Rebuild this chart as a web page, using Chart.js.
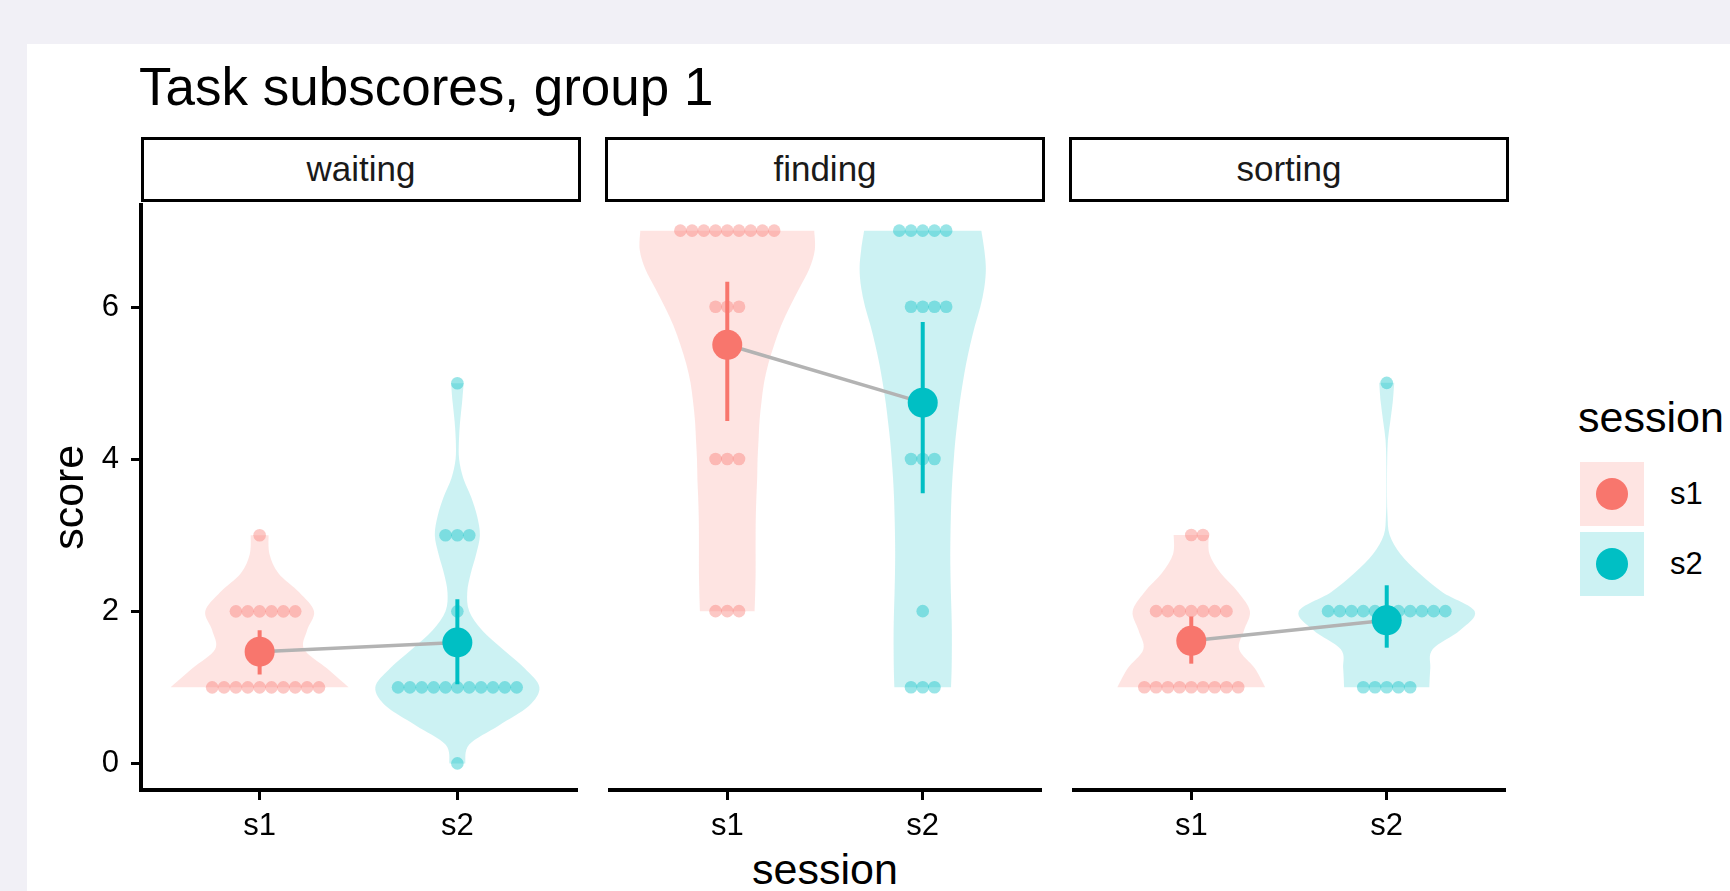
<!DOCTYPE html>
<html>
<head>
<meta charset="utf-8">
<title>Task subscores, group 1</title>
<script src="https://cdn.jsdelivr.net/npm/chart.js@4.4.1/dist/chart.umd.min.js"></script>
<style>
  html, body { margin: 0; padding: 0; }
  body {
    width: 1730px;
    height: 891px;
    overflow: hidden;
    position: relative;
    background: #f1f0f6;
    font-family: "Liberation Sans", Arial, Helvetica, sans-serif;
    color: #000;
  }
  .card { position: absolute; left: 27px; top: 44px; right: 0; bottom: 0; background: #fff; }
  .title { position: absolute; left: 139px; top: 60px; font-size: 53px; line-height: 53px; white-space: nowrap; }
  .strip {
    position: absolute;
    top: 137px;
    height: 65px;
    box-sizing: border-box;
    border: 3px solid #000;
    text-align: center;
    font-size: 35px;
    line-height: 57px;
    color: #1a1a1a;
  }
  canvas.panel { position: absolute; top: 174px; }
  .x-title { position: absolute; left: 141px; width: 1368px; top: 848px; text-align: center; font-size: 43px; line-height: 43px; }
  .legend-title { position: absolute; left: 1578px; top: 396px; font-size: 43px; line-height: 43px; }
  .key { position: absolute; left: 1580px; width: 64px; height: 64px; }
  .key i { position: absolute; left: 16px; top: 16px; width: 32px; height: 32px; border-radius: 50%; }
  .key-label { position: absolute; left: 1670px; font-size: 31px; line-height: 64px; }
</style>
</head>
<body>
<div class="card"></div>
<div class="title">Task subscores, group 1</div>
<div class="x-title">session</div>
<div class="legend-title">session</div>

<script>
// ---- values ----
const facets = ['waiting', 'finding', 'sorting'];
const sessions = ['s1', 's2'];
const sessionColors = ['#F8766D', '#00BFC4'];
const yTicks = [0, 2, 4, 6];

// number of dots at each score, index = score 0..7
const waitingS1Counts = [0, 10, 6, 1, 0, 0, 0, 0];
const waitingS2Counts = [1, 11, 1, 3, 0, 1, 0, 0];
const findingS1Counts = [0, 0, 3, 0, 3, 0, 3, 9];
const findingS2Counts = [0, 3, 1, 0, 3, 0, 4, 5];
const sortingS1Counts = [0, 9, 7, 2, 0, 0, 0, 0];
const sortingS2Counts = [0, 5, 11, 0, 0, 1, 0, 0];

// mean and interval, [s1, s2]
const waitingMeans = [1.47, 1.59];
const waitingLow = [1.17, 1.04];
const waitingHigh = [1.75, 2.16];
const findingMeans = [5.5, 4.74];
const findingLow = [4.5, 3.55];
const findingHigh = [6.33, 5.8];
const sortingMeans = [1.61, 1.88];
const sortingLow = [1.31, 1.52];
const sortingHigh = [1.93, 2.34];

// violin half widths (category units), every 0.25 from lowest to highest score of the group
const violinStep = 0.25;
const waitingS1Violin = [0.45, 0.34, 0.225, 0.24, 0.275, 0.2, 0.095, 0.05, 0.045];
const waitingS2Violin = [0.04, 0.06, 0.21, 0.36, 0.415, 0.34, 0.23, 0.125, 0.06, 0.05, 0.068,
  0.095, 0.114, 0.1, 0.07, 0.03, 0.009, 0.008, 0.014, 0.024, 0.032];
const findingS1Violin = [0.14, 0.143, 0.145, 0.145, 0.145, 0.146, 0.149, 0.153, 0.155, 0.16, 0.165,
  0.175, 0.188, 0.21, 0.24, 0.275, 0.32, 0.37, 0.42, 0.448, 0.445];
const findingS2Violin = [0.145, 0.148, 0.149, 0.149, 0.147, 0.144, 0.142, 0.141, 0.142, 0.144, 0.147,
  0.152, 0.159, 0.167, 0.178, 0.19, 0.205, 0.222, 0.243, 0.267, 0.295, 0.315, 0.323, 0.315, 0.3];
const sortingS1Violin = [0.378, 0.325, 0.245, 0.27, 0.3, 0.24, 0.15, 0.093, 0.09];
const sortingS2Violin = [0.218, 0.223, 0.235, 0.375, 0.45, 0.285, 0.165, 0.07, 0.015, 0.004,
  0.0015, 0.0015, 0.0025, 0.006, 0.0185, 0.031, 0.0385];

// ---- layout ----
const PANEL_LEFT = [141, 605, 1069];
const PANEL_W = 440;
const AXIS_W = 114;      // room for the y axis on the first panel
const PAD_X = 10;
const CANVAS_H = 676;    // 30 top padding + 586 plot + 60 x axis
const DOT_GAP = 0.06;    // dot stacking step in category units

const panels = [
  { counts: [waitingS1Counts, waitingS2Counts], means: waitingMeans, low: waitingLow, high: waitingHigh,
    violins: [waitingS1Violin, waitingS2Violin] },
  { counts: [findingS1Counts, findingS2Counts], means: findingMeans, low: findingLow, high: findingHigh,
    violins: [findingS1Violin, findingS2Violin] },
  { counts: [sortingS1Counts, sortingS2Counts], means: sortingMeans, low: sortingLow, high: sortingHigh,
    violins: [sortingS1Violin, sortingS2Violin] },
];

function alpha(hex, a) {
  const n = parseInt(hex.slice(1), 16);
  return `rgba(${(n >> 16) & 255}, ${(n >> 8) & 255}, ${n & 255}, ${a})`;
}

// catmull-rom through a list of pixel points
function smoothThrough(ctx, pts) {
  for (let i = 0; i < pts.length - 1; i++) {
    const p0 = pts[Math.max(i - 1, 0)];
    const p1 = pts[i];
    const p2 = pts[i + 1];
    const p3 = pts[Math.min(i + 2, pts.length - 1)];
    ctx.bezierCurveTo(
      p1[0] + (p2[0] - p0[0]) / 6, p1[1] + (p2[1] - p0[1]) / 6,
      p2[0] - (p3[0] - p1[0]) / 6, p2[1] - (p3[1] - p1[1]) / 6,
      p2[0], p2[1]);
  }
}

function makeViolinPlugin(shapes) {
  return {
    id: 'violins',
    beforeDatasetsDraw(chart) {
      const { ctx, scales: { x, y } } = chart;
      shapes.forEach(shape => {
        const right = [];
        const left = [];
        shape.widths.forEach((w, i) => {
          const v = shape.from + i * violinStep;
          right.push([x.getPixelForValue(shape.center + w), y.getPixelForValue(v)]);
          left.push([x.getPixelForValue(shape.center - w), y.getPixelForValue(v)]);
        });
        left.reverse();
        ctx.save();
        ctx.beginPath();
        ctx.moveTo(right[0][0], right[0][1]);
        smoothThrough(ctx, right);
        ctx.lineTo(left[0][0], left[0][1]);
        smoothThrough(ctx, left);
        ctx.closePath();
        ctx.fillStyle = shape.fill;
        ctx.fill();
        ctx.restore();
      });
    }
  };
}

const tickFont = { family: '"Liberation Sans", Arial, sans-serif', size: 31 };

panels.forEach((p, k) => {
  const first = k === 0;

  // strip label
  const strip = document.createElement('div');
  strip.className = 'strip';
  strip.style.left = PANEL_LEFT[k] + 'px';
  strip.style.width = PANEL_W + 'px';
  strip.textContent = facets[k];
  document.body.appendChild(strip);

  const canvas = document.createElement('canvas');
  canvas.className = 'panel';
  const left = PANEL_LEFT[k] - (first ? AXIS_W : PAD_X);
  const width = PANEL_W + PAD_X + (first ? AXIS_W : PAD_X);
  canvas.width = width;
  canvas.height = CANVAS_H;
  canvas.style.left = left + 'px';
  canvas.style.width = width + 'px';
  canvas.style.height = CANVAS_H + 'px';
  document.body.appendChild(canvas);

  // dot stacks, centred like ggplot's "centerwhole"
  const dots = [];
  const dotColors = [];
  p.counts.forEach((counts, s) => {
    counts.forEach((n, score) => {
      for (let j = 0; j < n; j++) {
        dots.push({ x: s + 1 + (j - Math.floor((n - 1) / 2)) * DOT_GAP, y: score });
        dotColors.push(alpha(sessionColors[s], 0.4));
      }
    });
  });

  const shapes = p.violins.map((widths, s) => ({
    center: s + 1,
    from: p.counts[s].findIndex(n => n > 0),
    widths,
    fill: alpha(sessionColors[s], 0.2),
  }));

  const meanPoints = p.means.map((m, s) => ({ x: s + 1, y: m }));

  new Chart(canvas, {
    type: 'scatter',
    data: {
      datasets: [
        { data: meanPoints, pointRadius: 15, backgroundColor: sessionColors, borderWidth: 0, order: 0 },
        ...sessions.map((name, s) => ({
          data: [{ x: s + 1, y: p.low[s] }, { x: s + 1, y: p.high[s] }],
          showLine: true, borderColor: sessionColors[s], borderWidth: 4, pointRadius: 0, order: 1,
        })),
        { data: meanPoints, showLine: true, borderColor: '#b3b3b3', borderWidth: 3.5, pointRadius: 0, order: 2 },
        { data: dots, pointRadius: 6.3, backgroundColor: dotColors, borderWidth: 0, order: 3 },
      ]
    },
    options: {
      responsive: false,
      animation: false,
      devicePixelRatio: 1,
      events: [],
      layout: { padding: { top: 30, bottom: 0, left: first ? 0 : PAD_X, right: PAD_X } },
      plugins: { legend: { display: false }, tooltip: { enabled: false } },
      scales: {
        x: {
          type: 'linear',
          min: 0.4,
          max: 2.6,
          afterBuildTicks: axis => { axis.ticks = sessions.map((s, i) => ({ value: i + 1 })); },
          afterFit: axis => { axis.height = 60; },
          border: { display: true, color: '#000', width: 4 },
          grid: { display: true, drawOnChartArea: false, drawTicks: true, tickLength: 10, color: '#000', lineWidth: 3 },
          ticks: { color: '#000', font: tickFont, padding: 8, maxRotation: 0, callback: v => sessions[v - 1] },
        },
        y: {
          type: 'linear',
          min: -0.35,
          max: 7.35,
          display: first,
          afterBuildTicks: axis => { axis.ticks = yTicks.map(v => ({ value: v })); },
          afterFit: axis => { axis.width = first ? AXIS_W : 0; },
          border: { display: true, color: '#000', width: 4 },
          grid: { display: true, drawOnChartArea: false, drawTicks: true, tickLength: 10, color: '#000', lineWidth: 3 },
          ticks: { color: '#000', font: tickFont, padding: 12 },
          title: {
            display: true,
            text: 'score',
            color: '#000',
            font: { family: '"Liberation Sans", Arial, sans-serif', size: 43 },
            padding: { top: 18, bottom: 0 },
          },
        },
      },
    },
    plugins: [makeViolinPlugin(shapes)],
  });
});

// legend keys
sessions.forEach((name, s) => {
  const top = 462 + s * 70;
  const key = document.createElement('div');
  key.className = 'key';
  key.style.top = top + 'px';
  key.style.background = alpha(sessionColors[s], 0.2);
  const dot = document.createElement('i');
  dot.style.background = sessionColors[s];
  key.appendChild(dot);
  document.body.appendChild(key);

  const label = document.createElement('div');
  label.className = 'key-label';
  label.style.top = top + 'px';
  label.textContent = name;
  document.body.appendChild(label);
});
</script>
</body>
</html>
